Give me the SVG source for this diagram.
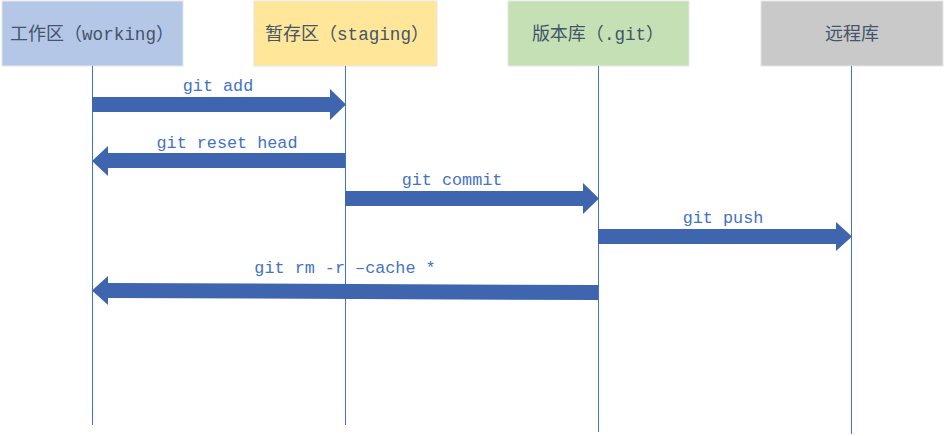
<svg xmlns="http://www.w3.org/2000/svg" width="944" height="436" viewBox="0 0 944 436">
<style>
.box{stroke:#e6e6e6;stroke-width:1}
.title{font-family:"Noto Sans CJK SC",sans-serif;font-size:18px;fill:#44546a;text-anchor:middle}
.lat{font-family:"Liberation Mono","DejaVu Sans Mono",monospace;font-size:17.6px}
.life{stroke:#4472c4;stroke-width:1;fill:none}
.arr{fill:#3f65ae}
.lbl{font-family:"Liberation Mono","DejaVu Sans Mono",monospace;font-size:16.8px;fill:#4472c4;text-anchor:middle}
</style>
<rect width="944" height="436" fill="#ffffff"/>
<g id="working">
<rect class="box" x="2" y="1" width="181" height="65" fill="#b4c7e7"/>
<text class="title" x="92" y="40">工作区（<tspan class="lat">working</tspan>）</text>
</g>
<g id="staging">
<rect class="box" x="254" y="1" width="183" height="65" fill="#ffe699"/>
<text class="title" x="347" y="40">暂存区（<tspan class="lat">staging</tspan>）</text>
</g>
<g id="repo">
<rect class="box" x="508" y="1" width="181" height="65" fill="#c5e0b4"/>
<text class="title" x="598" y="40">版本库（<tspan class="lat">.git</tspan>）</text>
</g>
<g id="remote">
<rect class="box" x="761" y="1" width="182" height="65" fill="#c9c9c9"/>
<text class="title" x="852" y="40">远程库</text>
</g>
<g id="connectors">
<line class="life" x1="92.5" y1="66" x2="92.5" y2="425"/>
<line class="life" x1="345.5" y1="66" x2="345.5" y2="425"/>
<line class="life" x1="598.5" y1="66" x2="598.5" y2="432"/>
<line class="life" x1="851.5" y1="66" x2="851.5" y2="434"/>
<polygon class="arr" points="92,97 330,97 330,89 346,104.5 330,120 330,112 92,112"/>
<text class="lbl" x="218" y="91">git add</text>
<polygon class="arr" points="345,153 108,153 108,146 92,161 108,176 108,168 345,168"/>
<text class="lbl" x="227" y="148">git reset head</text>
<polygon class="arr" points="345,191 583,191 583,183 599,198.5 583,214 583,206 345,206"/>
<text class="lbl" x="452" y="185">git commit</text>
<polygon class="arr" points="598,229 836,229 836,222 852,236.5 836,251 836,244 598,244"/>
<text class="lbl" x="723" y="223">git push</text>
<polygon class="arr" points="598,285 108,283 108,276 92,290.5 108,305 108,298 598,300"/>
<text class="lbl" x="345" y="273">git rm -r –cache *</text>
</g>
</svg>
